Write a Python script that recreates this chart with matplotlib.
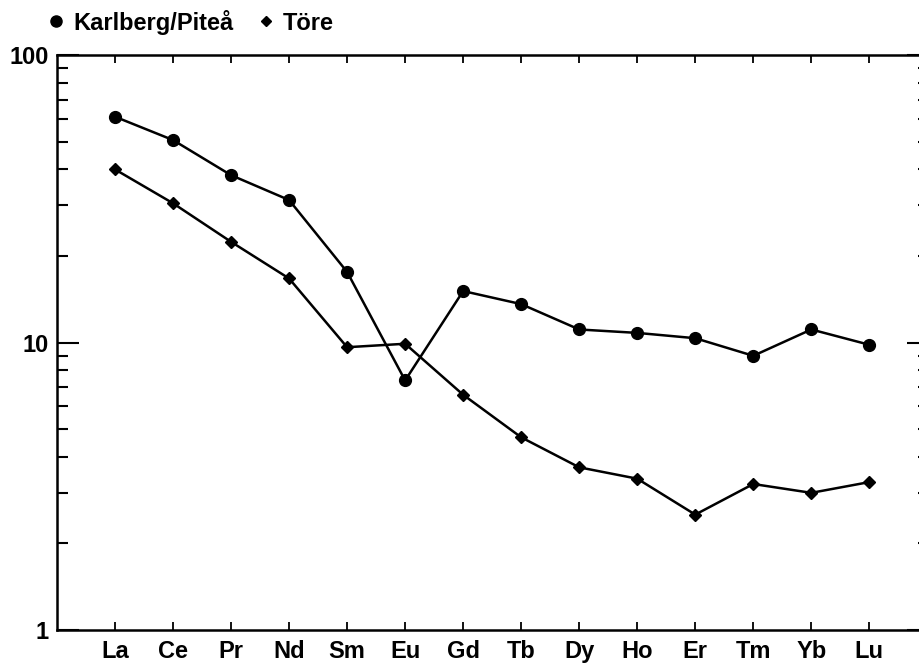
import matplotlib.pyplot as plt
from matplotlib.lines import Line2D
from matplotlib.ticker import LogLocator, NullFormatter, FixedLocator, FixedFormatter

elements = ["La", "Ce", "Pr", "Nd", "Sm", "Eu", "Gd", "Tb", "Dy", "Ho", "Er", "Tm", "Yb", "Lu"]
karlberg = [61.0, 50.6, 38.2, 31.3, 17.6, 7.38, 15.1, 13.6, 11.1, 10.8, 10.35, 8.99, 11.1, 9.82]
tore = [40.0, 30.5, 22.4, 16.7, 9.63, 9.9, 6.58, 4.68, 3.68, 3.36, 2.52, 3.22, 3.00, 3.27]

plt.rcParams["font.family"] = ["Liberation Sans", "DejaVu Sans"]
plt.rcParams["font.weight"] = "bold"

fig = plt.figure(figsize=(9.19, 6.65), dpi=100)
ax = fig.add_axes([0.062, 0.0526, 0.949, 0.8647])

x = list(range(len(elements)))
ax.plot(x, karlberg, color="black", lw=1.8, marker="o", ms=8.5, zorder=3)
ax.plot(x, tore, color="black", lw=1.8, marker="D", ms=6.5, zorder=3)

ax.set_yscale("log")
ax.set_ylim(1, 100)
ax.set_xlim(-1, 14.03)

ax.yaxis.set_major_locator(FixedLocator([1, 10, 100]))
ax.yaxis.set_major_formatter(FixedFormatter(["1", "10", "100"]))
ax.yaxis.set_minor_locator(LogLocator(base=10, subs=range(2, 10)))
ax.yaxis.set_minor_formatter(NullFormatter())

ax.set_xticks(x)
ax.set_xticklabels(elements)

ax.tick_params(axis="y", which="major", direction="in", length=16, width=1.5,
               left=True, right=True, labelsize=17, pad=6)
ax.tick_params(axis="y", which="minor", direction="in", length=8, width=1.5,
               left=True, right=True)
ax.tick_params(axis="x", which="major", direction="in", length=6, width=1.3,
               top=True, bottom=True, labelsize=17, pad=7)

for side in ["left", "bottom", "top", "right"]:
    ax.spines[side].set_linewidth(1.8)

handles = [
    Line2D([], [], color="black", marker="o", ls="none", ms=8),
    Line2D([], [], color="black", marker="D", ls="none", ms=5.5),
]
ax.legend(handles, ["Karlberg/Piteå", "Töre"], loc="lower left",
          bbox_to_anchor=(-0.025, 1.015), ncol=2, frameon=False,
          prop={"size": 17, "weight": "bold"}, handletextpad=0.3,
          columnspacing=1.0, borderaxespad=0.1, handlelength=0.8)

fig.savefig("out.png", dpi=100)
